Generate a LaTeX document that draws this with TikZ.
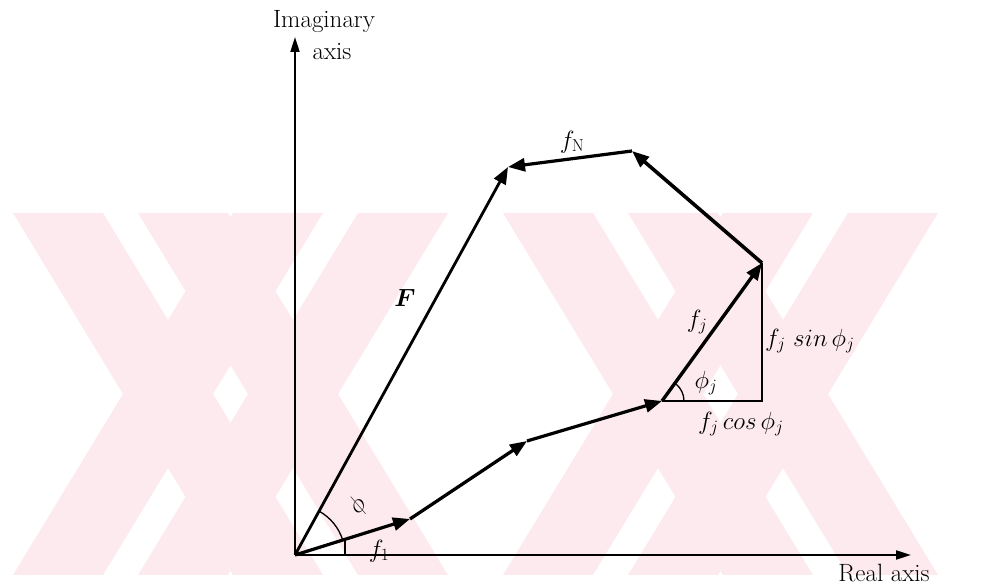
\documentclass[tikz,border=0pt]{standalone}
\usepackage{bm}
\usetikzlibrary{arrows.meta}
\definecolor{wm}{RGB}{252,234,238}
\tikzset{
  axisarrow/.style={line width=2pt,-{Triangle[length=15pt,width=9pt]}},
  vec/.style={line width=3.2pt,-{Triangle[length=17pt,width=13pt]}},
  guide/.style={line width=1.8pt},
  anglemark/.style={line width=1.3pt},
  lbl/.style={inner sep=0pt,font=\fontsize{25}{28}\selectfont},
  axlbl/.style={inner sep=0pt,font=\fontsize{25}{28}\selectfont},
}
\begin{document}
\begin{tikzpicture}[x=1pt,y=1pt]
\useasboundingbox (0,0) rectangle (1007,588);
% watermark
\begin{scope}
\clip (0,13) rectangle (1007,375);
\foreach \m in {168,293,658,783} {
  \fill[wm] (\m-155,375) -- (\m-65,375) -- (\m+155,13) -- (\m+65,13) -- cycle;
  \fill[wm] (\m+65,375) -- (\m+155,375) -- (\m-65,13) -- (\m-155,13) -- cycle;
}
\end{scope}
% points
\coordinate (O) at (295,33);
\coordinate (Ytip) at (295,551);
\coordinate (Xtip) at (911,33);
\coordinate (P1) at (410,69);
\coordinate (P2) at (527,147);
\coordinate (P3) at (662,187);
\coordinate (P4) at (762,325);
\coordinate (P5) at (632,437);
\coordinate (P6) at (508,421);
\coordinate (C) at (762,187);
\coordinate (T1) at (345,33);
\coordinate (T2) at (345,48.7);
% axes
\draw[axisarrow] (O) -- (Ytip);
\draw[axisarrow] (O) -- (Xtip);
% vectors
\draw[vec] (O) -- (P1);
\draw[vec] (P1) -- (P2);
\draw[vec] (P2) -- (P3);
\draw[vec,line width=3.4pt] (P3) -- (P4);
\draw[vec,line width=3.6pt] (P4) -- (P5);
\draw[vec] (P5) -- (P6);
\draw[vec,line width=2.8pt] (O) -- (P6);
% construction
\draw[guide] (P3) -- (C) -- (P4);
\draw[guide] (T1) -- (T2);
\draw[anglemark] (O) ++(17.4:50pt) arc[start angle=17.4,end angle=61.2,radius=50pt];
\draw[anglemark] (P3) ++(0:22pt) arc[start angle=0,end angle=50,radius=22pt];
% labels
\node[axlbl] (lim) at (324,566) {Imaginary};
\node[axlbl] (lax) at (332,536) {axis};
\node[axlbl] (lre) at (884,15) {Real axis};
\node[lbl,font=\fontsize{28}{30}\selectfont] (lF) at (405,290) {$\bm{F}$};
\node[lbl] (lfN) at (572,446) {$f_{\mathrm{N}}$};
\node[lbl] (lfj) at (697,266) {$f_j$};
\node[lbl] (lphij) at (706,205) {$\phi_j$};
\node[lbl,anchor=west] (lsin) at (765,247) {$f_j\ sin\,\phi_j$};
\node[lbl,anchor=west] (lcos) at (698,164) {$f_j\,cos\,\phi_j$};
\node[lbl,rotate=55,font=\fontsize{32}{34}\selectfont] (lphi) at (358,82) {$\phi$};
\node[lbl,font=\fontsize{27}{30}\selectfont] (lf1) at (379,37) {$f_1$};
\end{tikzpicture}
\end{document}
